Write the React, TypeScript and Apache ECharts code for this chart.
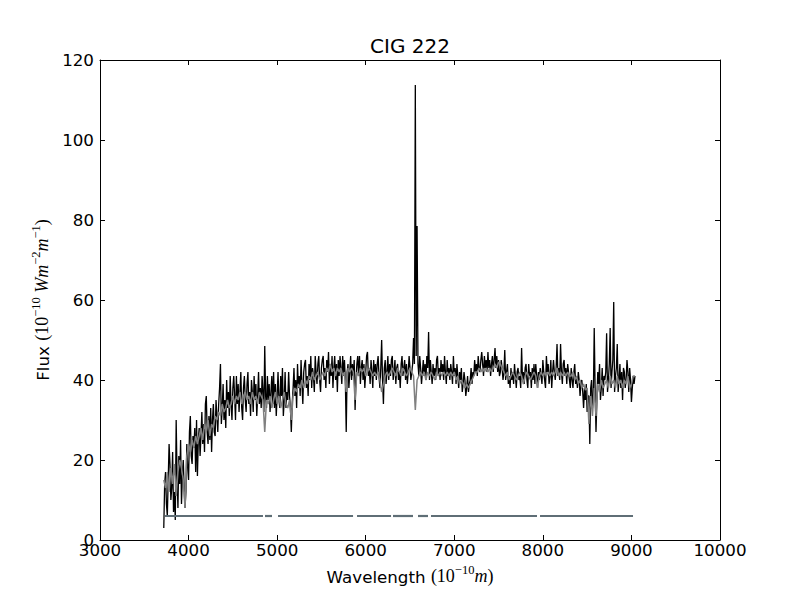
import React, { useEffect, useRef } from "react";
import * as echarts from "echarts";

// Wavelength sampling grids (Angstrom)
const OBS_START = 3720;
const OBS_STEP = 10;
const MODEL_START = 3720;
const MODEL_STEP = 20;

const OBSERVED_FLUX = [
  3, 14, 17, 9, 6, 15, 24, 19, 10, 13, 22, 7, 12, 5, 30, 16, 8, 21, 14, 25,
  9, 16, 20, 13, 8, 12, 24, 18, 15, 27, 31, 21, 19, 26, 23, 28, 17, 30, 16, 25,
  28, 21, 26, 32, 24, 29, 22, 34, 36, 27, 24, 31, 25, 33, 22, 30, 34, 27, 26, 35,
  31, 27, 34, 38, 44, 29, 33, 39, 30, 35, 28, 40, 33, 37, 31, 41, 34, 30, 38, 41,
  36, 30, 41, 34, 39, 32, 37, 42, 33, 30, 38, 41, 35, 32, 39, 42, 34, 37, 31, 40,
  37, 32, 41, 35, 39, 31, 36, 42, 34, 38, 33, 41, 37, 32, 48.5, 36, 33, 41, 35, 39,
  32, 37, 41, 34, 42, 33, 39, 31, 36, 42, 35, 33, 41, 36, 43, 31, 35, 42, 33, 37,
  35, 42, 36, 33, 27, 34, 38, 43, 36, 40, 33, 44, 38, 41, 36, 45, 39, 34, 42, 44,
  45, 38, 41, 36, 44, 40, 46, 38, 43, 41, 37, 46, 42, 39, 44, 46, 40, 37, 43, 45,
  46, 40, 43, 38, 45, 42, 47, 39, 44, 41, 46, 38, 43, 46, 40, 44, 37, 45, 41, 46,
  43, 39, 46, 41, 45, 40, 27, 42, 44, 38, 42, 46, 40, 44, 41, 45, 32.5, 40, 44, 46,
  41, 46, 39, 43, 45, 40, 44, 38, 42, 46, 47, 41, 43, 39, 45, 42, 38, 45, 41, 44,
  40, 44, 46, 41, 38, 43, 50, 40, 34, 43, 45, 39, 42, 46, 40, 44, 41, 45, 46, 40,
  42, 45, 39, 43, 44, 40, 42, 38, 44, 46, 41, 43, 45, 40, 44, 39, 42, 46, 43, 40,
  42, 44, 50.5, 44, 113.75, 46, 78.5, 44, 41, 46, 43, 39, 42, 45, 41, 44, 40, 46, 43, 52,
  40, 45, 42, 39, 44, 41, 43, 40, 45, 46, 41, 43, 40, 45, 42, 44, 40, 46, 42, 39,
  45, 41, 43, 40, 44, 42, 39, 46, 41, 43, 39, 44, 41, 38, 42, 40, 43, 37, 39, 42,
  40, 36, 38, 41, 37, 39, 40, 43, 39, 42, 41, 45, 42, 44, 41, 46, 43, 42, 45, 47,
  44, 41, 46, 43, 45, 42, 47, 43, 45, 41, 44, 46, 42, 45, 48, 43, 46, 42, 45, 41,
  42, 45, 43, 40, 42, 47.5, 40, 42, 44, 39, 41, 38, 43, 40, 42, 39, 44, 41, 38, 42,
  43, 40, 41, 38, 48, 40, 42, 39, 43, 44, 40, 38, 44, 41, 42, 38, 43, 40, 44, 39,
  44, 41, 38, 42, 40, 43, 41, 39, 45, 42, 40, 38, 46, 42, 44, 39, 41, 45, 38, 42,
  45, 42, 40, 43, 49, 41, 43, 40, 49, 42, 39, 44, 45, 41, 43, 39, 44, 42, 40, 38,
  43, 40, 38, 42, 44, 39, 41, 38, 42, 40, 36, 39, 40, 37, 33, 38, 35, 39, 32, 36,
  36, 24, 38, 40, 33, 36, 53, 38, 27, 35, 42, 39, 44, 35, 38, 43, 36, 41, 40, 42,
  51.7, 37, 40, 44, 53, 38, 42, 45, 59.5, 37, 41, 43, 49, 37, 40, 44, 38, 42, 35, 43,
  42, 38, 40, 45, 42, 37, 43, 40, 34.5, 38, 41, 39, 41,
];

// Model spectrum (grey)
const MODEL_FLUX = [
  15, 13, 17, 12, 18, 14, 19, 11, 17, 20,
  18, 15, 8, 21, 24, 22, 25, 23, 26, 24,
  26, 28, 25, 29, 27, 30, 26, 29, 28, 31,
  30, 32, 31, 34, 32, 33, 35, 33, 34, 36,
  34, 36, 35, 37, 34, 36, 37, 35, 36, 34,
  37, 35, 36, 34, 37, 36, 35, 27, 35, 34,
  36, 33, 35, 37, 34, 36, 33, 35, 37, 34,
  33, 35, 30, 36, 38, 37, 39, 38, 40, 38,
  40, 39, 41, 40, 42, 40, 41, 42, 40, 41,
  42, 41, 43, 42, 44, 42, 43, 41, 43, 42,
  43, 41, 42, 37, 43, 42, 43, 42, 35, 42,
  41, 43, 42, 43, 41, 42, 43, 42, 41, 42,
  41, 42, 40, 37, 39, 41, 42, 41, 42, 43,
  42, 41, 43, 42, 41, 43, 42, 41, 42, 43,
  42, 41, 32.5, 40, 41, 42, 41, 42, 40, 42,
  41, 42, 41, 40, 42, 41, 42, 41, 42, 41,
  42, 41, 42, 41, 42, 40, 41, 39, 40, 39,
  38, 39, 38, 39, 40, 41, 42, 42, 43, 42,
  43, 42, 43, 42, 43, 42, 43, 44, 43, 44.5,
  44, 43, 42, 41, 42, 40, 41, 42, 41, 40,
  41, 42, 41, 39, 41, 42, 41, 40, 41, 42,
  41, 38, 41, 42, 41, 42, 41, 42, 41, 42,
  41, 42, 43, 41, 42, 41, 42, 41, 42, 41,
  41, 42, 40, 41, 39, 40, 38, 39, 37.5, 38,
  29, 36, 31, 38, 31, 39, 37, 40, 38, 39,
  40, 38, 41, 39, 40, 38, 41, 39, 40, 38,
  40, 39, 41, 38, 39, 41, 41,
];

// Fitted wavelength ranges (drawn as the horizontal line)
const MASK_SEGMENTS: [number, number][] = [
  [3734, 4840],
  [4863, 4942],
  [5010, 5857],
  [5902, 6286],
  [6308, 6534],
  [6590, 6703],
  [6737, 7934],
  [7968, 9018],
];
const MASK_LEVEL = 6;

const TITLE = "CIG 222";

const SANS = "DejaVu Sans";
const SERIF = "Liberation Serif";

function toPairs(values: number[], start: number, step: number): [number, number][] {
  return values.map((v, i) => [start + i * step, v]);
}

const mathRich = {
  t: { fontFamily: SANS, fontSize: 16.7, color: "#000", lineHeight: 22, verticalAlign: "bottom" },
  r: { fontFamily: SERIF, fontSize: 18, color: "#000", lineHeight: 22, verticalAlign: "bottom" },
  i: { fontFamily: SERIF, fontSize: 18, fontStyle: "italic", color: "#000", lineHeight: 22, verticalAlign: "bottom" },
  s: { fontFamily: SERIF, fontSize: 12.5, color: "#000", lineHeight: 22, verticalAlign: "top" },
};

export default function App() {
  const ref = useRef<HTMLDivElement>(null);

  useEffect(() => {
    if (!ref.current) return;
    const chart = echarts.init(ref.current, undefined, { renderer: "svg" });

    const axisCommon = {
      type: "value" as const,
      splitLine: { show: false },
      axisLine: { show: true, onZero: false, lineStyle: { color: "#000", width: 1 } },
      axisTick: { show: true, inside: true, length: 5, lineStyle: { color: "#000", width: 1 } },
    };
    const plainLabel = (v: number) => String(v);

    const maskSeries = MASK_SEGMENTS.map((seg) => ({
      type: "line",
      data: [
        [seg[0], MASK_LEVEL],
        [seg[1], MASK_LEVEL],
      ],
      showSymbol: false,
      symbol: "none",
      silent: true,
      lineStyle: { color: "#5f6e76", width: 2.2 },
      z: 4,
    }));

    chart.setOption({
      animation: false,
      backgroundColor: "#fff",
      graphic: [
        {
          type: "text",
          x: 410,
          y: 46,
          style: {
            text: TITLE,
            font: `20px "${SANS}"`,
            fill: "#000",
            align: "center",
            verticalAlign: "middle",
          },
        },
      ],
      grid: { left: 100, right: 80, top: 60, bottom: 60, containLabel: false },
      xAxis: [
        {
          ...axisCommon,
          position: "bottom",
          min: 3000,
          max: 10000,
          interval: 1000,
          axisLabel: {
            color: "#000",
            fontSize: 16.7,
            lineHeight: 10,
            fontFamily: SANS,
            margin: 5,
            formatter: plainLabel,
          },
          name: "{t|Wavelength }{r|(10}{s|−10}{i|m}{r|)}",
          nameLocation: "middle",
          nameGap: 22,
          nameTextStyle: { rich: mathRich, verticalAlign: "top" },
        },
        {
          ...axisCommon,
          position: "top",
          min: 3000,
          max: 10000,
          interval: 1000,
          axisLabel: { show: false },
        },
      ],
      yAxis: [
        {
          ...axisCommon,
          position: "left",
          min: 0,
          max: 120,
          interval: 20,
          axisLabel: {
            color: "#000",
            fontSize: 16.7,
            lineHeight: 10,
            fontFamily: SANS,
            margin: 6,
            formatter: plainLabel,
          },
          name: "{t|Flux }{r|(10}{s|−10}{i| Wm}{s|−2}{i|m}{s|−1}{r|)}",
          nameLocation: "middle",
          nameRotate: 90,
          nameGap: 44,
          nameTextStyle: { rich: mathRich },
        },
        {
          ...axisCommon,
          position: "right",
          min: 0,
          max: 120,
          interval: 20,
          axisLabel: { show: false },
        },
      ],
      series: [
        {
          type: "line",
          data: toPairs(OBSERVED_FLUX, OBS_START, OBS_STEP),
          showSymbol: false,
          symbol: "none",
          silent: true,
          lineStyle: { color: "#000", width: 1.3 },
          z: 2,
        },
        {
          type: "line",
          data: toPairs(MODEL_FLUX, MODEL_START, MODEL_STEP),
          showSymbol: false,
          symbol: "none",
          silent: true,
          lineStyle: { color: "#808080", width: 1.5 },
          z: 3,
        },
        ...maskSeries,
      ],
    });

    return () => chart.dispose();
  }, []);

  return <div ref={ref} style={{ width: 800, height: 600, position: "absolute", left: 0, top: 0 }} />;
}
